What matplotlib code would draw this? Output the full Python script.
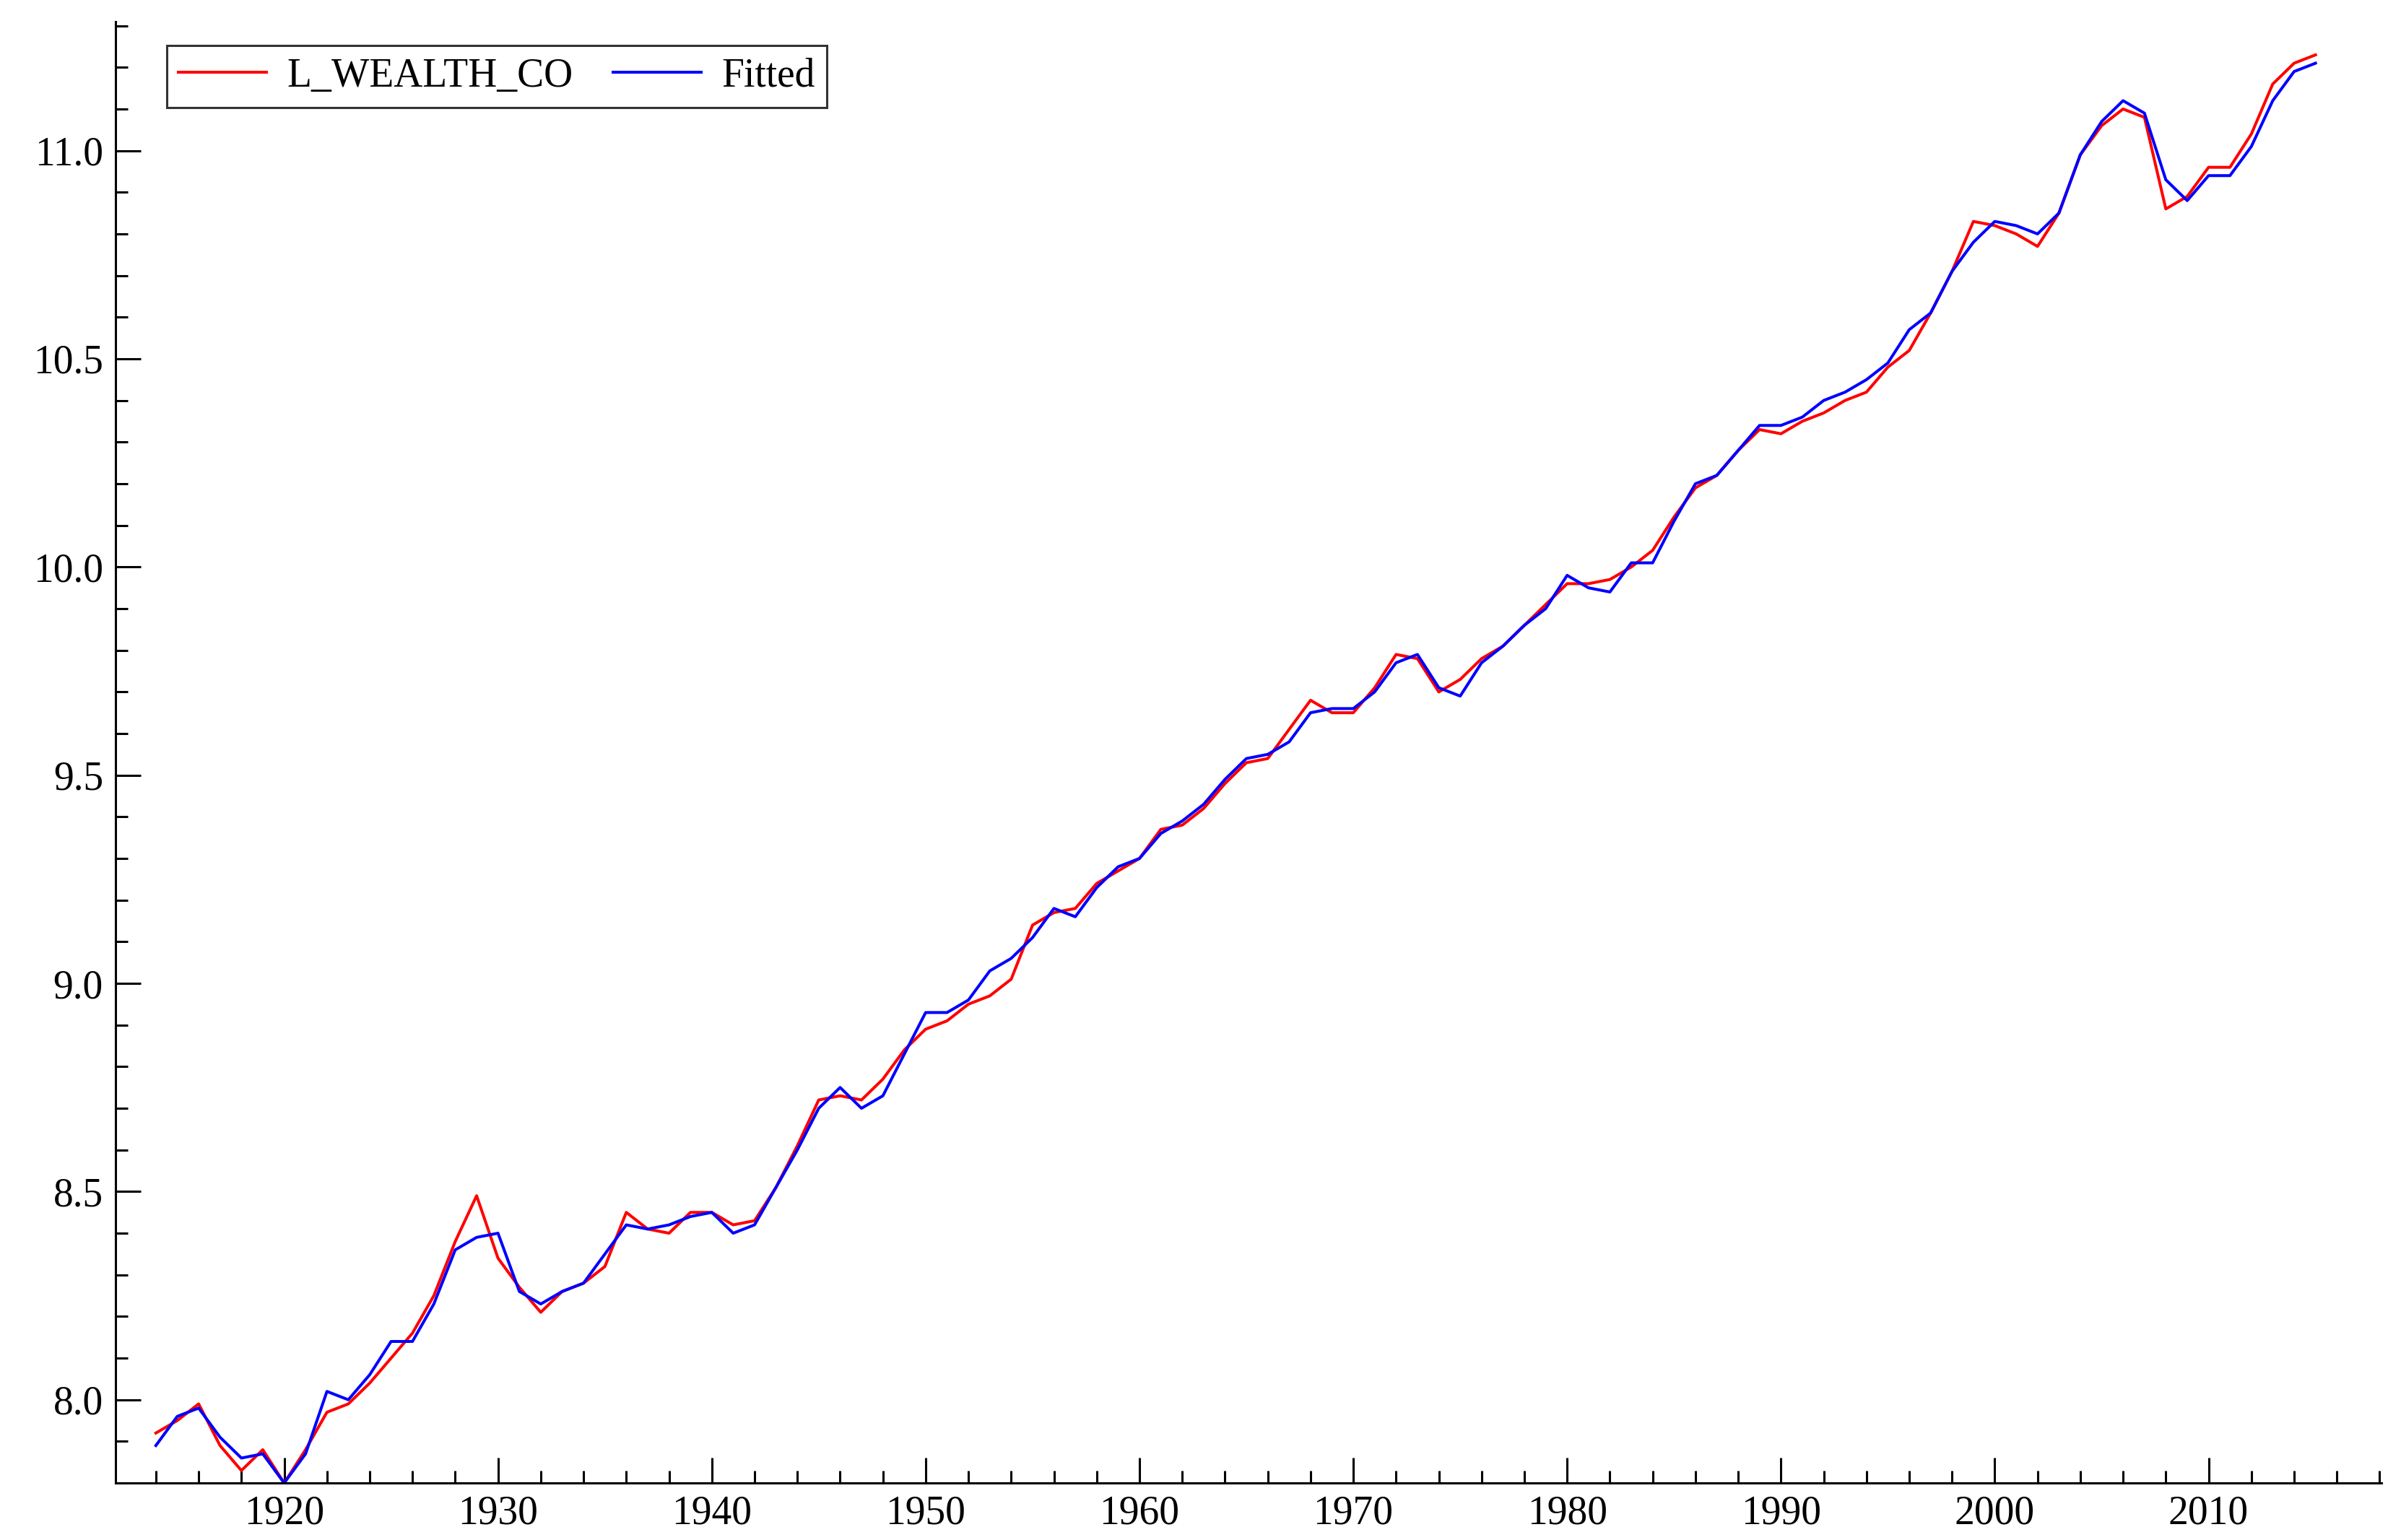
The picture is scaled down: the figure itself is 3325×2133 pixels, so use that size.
import matplotlib
matplotlib.use("Agg")
import matplotlib.pyplot as plt
from matplotlib.ticker import MultipleLocator

years = list(range(1914, 2016))
actual = [7.92,7.95,7.99,7.89,7.83,7.88,7.80,7.88,7.97,7.99,8.04,8.10,8.16,8.25,8.38,8.49,8.34,8.27,8.21,8.26,
          8.28,8.32,8.45,8.41,8.40,8.45,8.45,8.42,8.43,8.51,8.61,8.72,8.73,8.72,8.77,8.84,8.89,8.91,8.95,8.97,
          9.01,9.14,9.17,9.18,9.24,9.27,9.30,9.37,9.38,9.42,9.48,9.53,9.54,9.61,9.68,9.65,9.65,9.71,9.79,9.78,
          9.70,9.73,9.78,9.81,9.86,9.91,9.96,9.96,9.97,10.00,10.04,10.12,10.19,10.22,10.28,10.33,10.32,10.35,10.37,10.40,
          10.42,10.48,10.52,10.61,10.71,10.83,10.82,10.80,10.77,10.85,10.99,11.06,11.10,11.08,10.86,10.89,10.96,10.96,11.04,11.16,
          11.21,11.23]
fitted = [7.89,7.96,7.98,7.91,7.86,7.87,7.80,7.87,8.02,8.00,8.06,8.14,8.14,8.23,8.36,8.39,8.40,8.26,8.23,8.26,
          8.28,8.35,8.42,8.41,8.42,8.44,8.45,8.40,8.42,8.51,8.60,8.70,8.75,8.70,8.73,8.83,8.93,8.93,8.96,9.03,
          9.06,9.11,9.18,9.16,9.23,9.28,9.30,9.36,9.39,9.43,9.49,9.54,9.55,9.58,9.65,9.66,9.66,9.70,9.77,9.79,
          9.71,9.69,9.77,9.81,9.86,9.90,9.98,9.95,9.94,10.01,10.01,10.11,10.20,10.22,10.28,10.34,10.34,10.36,10.40,10.42,
          10.45,10.49,10.57,10.61,10.71,10.78,10.83,10.82,10.80,10.85,10.99,11.07,11.12,11.09,10.93,10.88,10.94,10.94,11.01,11.12,
          11.19,11.21]

plt.rcParams['font.family'] = ['Liberation Serif', 'DejaVu Serif']
fig = plt.figure(figsize=(33.25, 21.33), dpi=100)
ax = fig.add_axes([0.048, 0.037, 0.944, 0.949])
ax.plot(years, actual, color='#ff0000', lw=2.9, label='L_WEALTH_CO')
ax.plot(years, fitted, color='#0000ff', lw=2.9, label='Fitted')
ax.set_xlim(1912.1, 2018.1)
ax.set_ylim(7.80, 11.31)
ax.xaxis.set_major_locator(MultipleLocator(10))
ax.xaxis.set_minor_locator(MultipleLocator(2))
ax.yaxis.set_major_locator(MultipleLocator(0.5))
ax.yaxis.set_minor_locator(MultipleLocator(0.1))
ax.yaxis.set_major_formatter(matplotlib.ticker.FormatStrFormatter('%.1f'))
for s in ['top', 'right']:
    ax.spines[s].set_visible(False)
for s in ['left', 'bottom']:
    ax.spines[s].set_linewidth(2.2)
ax.tick_params(which='major', direction='in', length=25, width=2.2, labelsize=40, pad=12)
ax.tick_params(which='minor', direction='in', length=12, width=2.2)
leg = ax.legend(loc='upper left', ncol=2, fontsize=40, frameon=True, fancybox=False,
                edgecolor='black', borderaxespad=0.6, handlelength=2.2, columnspacing=1.0,
                borderpad=0.3, handletextpad=0.5, bbox_to_anchor=(0.012, 1.0))
leg.get_frame().set_linewidth(2.2)
fig.savefig('out.png', dpi=100)
